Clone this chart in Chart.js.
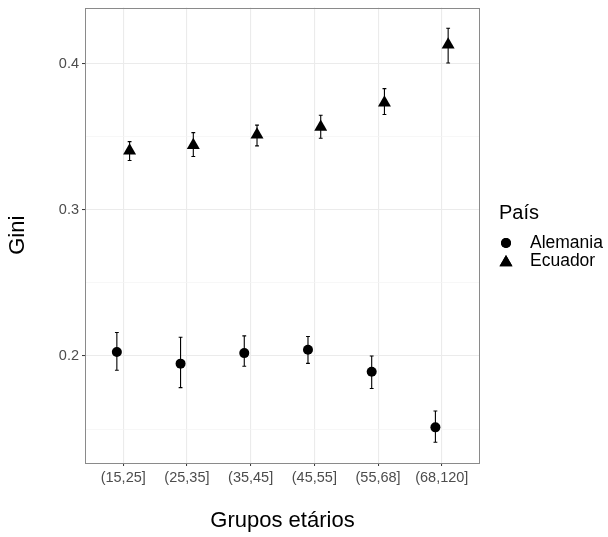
<!DOCTYPE html>
<html>
<head>
<meta charset="utf-8">
<script src="https://cdn.jsdelivr.net/npm/chart.js@4"></script>
<style>
  html, body { margin: 0; padding: 0; background: #fff; }
  #wrap { width: 608px; height: 537px; }
</style>
</head>
<body>
<div id="wrap"><canvas id="chart" width="608" height="537"></canvas></div>
<script>
// --- Data ---
const categories = ['(15,25]', '(25,35]', '(35,45]', '(45,55]', '(55,68]', '(68,120]'];

const alemania     = [0.2027, 0.1948, 0.2020, 0.2043, 0.1893, 0.1512];
const alemaniaLow  = [0.1903, 0.1784, 0.1930, 0.1950, 0.1778, 0.1410];
const alemaniaHigh = [0.2161, 0.2129, 0.2138, 0.2134, 0.2000, 0.1624];

const ecuador     = [0.3405, 0.3442, 0.3514, 0.3568, 0.3734, 0.4130];
const ecuadorLow  = [0.3338, 0.3365, 0.3438, 0.3490, 0.3653, 0.4005];
const ecuadorHigh = [0.3467, 0.3529, 0.3580, 0.3648, 0.3830, 0.4243];

const yTicks = [0.15, 0.2, 0.25, 0.3, 0.35, 0.4];
const yMajor = [0.2, 0.3, 0.4];

// --- Styling ---
const FONT = "'Liberation Sans', Arial, sans-serif";
const DODGE = 0.1;      // horizontal dodge in category units
const CAP = 0.03;       // half width of error bar caps
const isMajor = v => yMajor.some(m => Math.abs(m - v) < 1e-9);

const series = [
  { label: 'Alemania', values: alemania, low: alemaniaLow, high: alemaniaHigh, shift: -DODGE, style: 'circle', radius: 5 },
  { label: 'Ecuador', values: ecuador, low: ecuadorLow, high: ecuadorHigh, shift: DODGE, style: 'triangle', radius: 7.5 }
];

// error bars + panel border, drawn through the chart's scales
const errorBars = {
  id: 'errorBars',
  beforeDatasetsDraw(chart) {
    const { ctx, scales: { x, y } } = chart;
    ctx.save();
    ctx.strokeStyle = '#000';
    ctx.lineWidth = 1.1;
    series.forEach(s => {
      s.low.forEach((lo, i) => {
        const pos = i + 1 + s.shift;
        const px = x.getPixelForValue(pos);
        const x0 = x.getPixelForValue(pos - CAP);
        const x1 = x.getPixelForValue(pos + CAP);
        const yl = y.getPixelForValue(lo);
        const yh = y.getPixelForValue(s.high[i]);
        ctx.beginPath();
        ctx.moveTo(px, yl); ctx.lineTo(px, yh);
        ctx.moveTo(x0, yl); ctx.lineTo(x1, yl);
        ctx.moveTo(x0, yh); ctx.lineTo(x1, yh);
        ctx.stroke();
      });
    });
    ctx.restore();
  },
  afterDatasetsDraw(chart) {
    const { ctx, chartArea: a } = chart;
    ctx.save();
    ctx.strokeStyle = '#8a8a8a';
    ctx.lineWidth = 1;
    ctx.strokeRect(Math.round(a.left) + 0.5, Math.round(a.top) + 0.5,
                   Math.round(a.right - a.left) - 1, Math.round(a.bottom - a.top) - 1);
    ctx.restore();
  }
};

// legend on the right, like ggplot's
const sideLegend = {
  id: 'sideLegend',
  afterDraw(chart) {
    const { ctx } = chart;
    ctx.save();
    ctx.fillStyle = '#000';
    ctx.textBaseline = 'middle';
    ctx.textAlign = 'left';
    ctx.font = '20px ' + FONT;
    ctx.fillText('País', 499, 213);
    ctx.font = '17.5px ' + FONT;
    chart.data.datasets.forEach((ds, i) => {
      const cy = 243 + i * 18;
      Chart.helpers.drawPoint(ctx, { pointStyle: ds.pointStyle, radius: ds.pointRadius, borderWidth: 0 }, 506, cy + (ds.pointStyle === 'triangle' ? 1.5 : 0));
      ctx.fillStyle = '#000';
      ctx.fill();
      ctx.fillText(ds.label, 530, cy);
    });
    ctx.restore();
  }
};

new Chart(document.getElementById('chart'), {
  type: 'scatter',
  data: {
    datasets: series.map(s => ({
      label: s.label,
      data: s.values.map((v, i) => ({ x: i + 1 + s.shift, y: v })),
      pointStyle: s.style,
      pointRadius: s.radius,
      pointHoverRadius: s.radius,
      backgroundColor: '#000',
      borderColor: '#000',
      borderWidth: 0,
      showLine: false
    }))
  },
  options: {
    responsive: false,
    animation: false,
    layout: { padding: { top: 5, right: 128, left: 0, bottom: 0 } },
    plugins: { legend: { display: false }, tooltip: { enabled: false } },
    scales: {
      x: {
        type: 'linear',
        min: 0.4,
        max: categories.length + 0.6,
        afterBuildTicks(scale) { scale.ticks = categories.map((c, i) => ({ value: i + 1 })); },
        afterFit(scale) { scale.height = 74; scale.paddingLeft = 0; scale.paddingRight = 0; },
        border: { display: false },
        grid: { color: '#EBEBEB', lineWidth: 1.1, tickLength: 3, tickColor: '#333', tickWidth: 1 },
        ticks: {
          autoSkip: false, maxRotation: 0, padding: 3,
          color: '#4D4D4D', font: { family: FONT, size: 14.5 },
          callback: v => categories[Math.round(v) - 1]
        },
        title: { display: true, text: 'Grupos etários', color: '#000', font: { family: FONT, size: 22 }, padding: { bottom: 3 } }
      },
      y: {
        min: 0.1268,
        max: 0.4385,
        afterBuildTicks(scale) { scale.ticks = yTicks.map(v => ({ value: v })); },
        afterFit(scale) { scale.width = 85; scale.paddingTop = 0; scale.paddingBottom = 0; },
        border: { display: false },
        grid: {
          color: c => isMajor(c.tick.value) ? '#EBEBEB' : '#F3F3F3',
          lineWidth: c => isMajor(c.tick.value) ? 1.1 : 0.7,
          tickLength: 3,
          tickColor: c => isMajor(c.tick.value) ? '#333' : 'rgba(0,0,0,0)',
          tickWidth: 1
        },
        ticks: {
          padding: 3, color: '#4D4D4D', font: { family: FONT, size: 14.5 },
          callback: v => isMajor(v) ? v.toFixed(1) : ''
        },
        title: { display: true, text: 'Gini', color: '#000', font: { family: FONT, size: 22 }, padding: { top: 5 } }
      }
    }
  },
  plugins: [errorBars, sideLegend]
});
</script>
</body>
</html>
